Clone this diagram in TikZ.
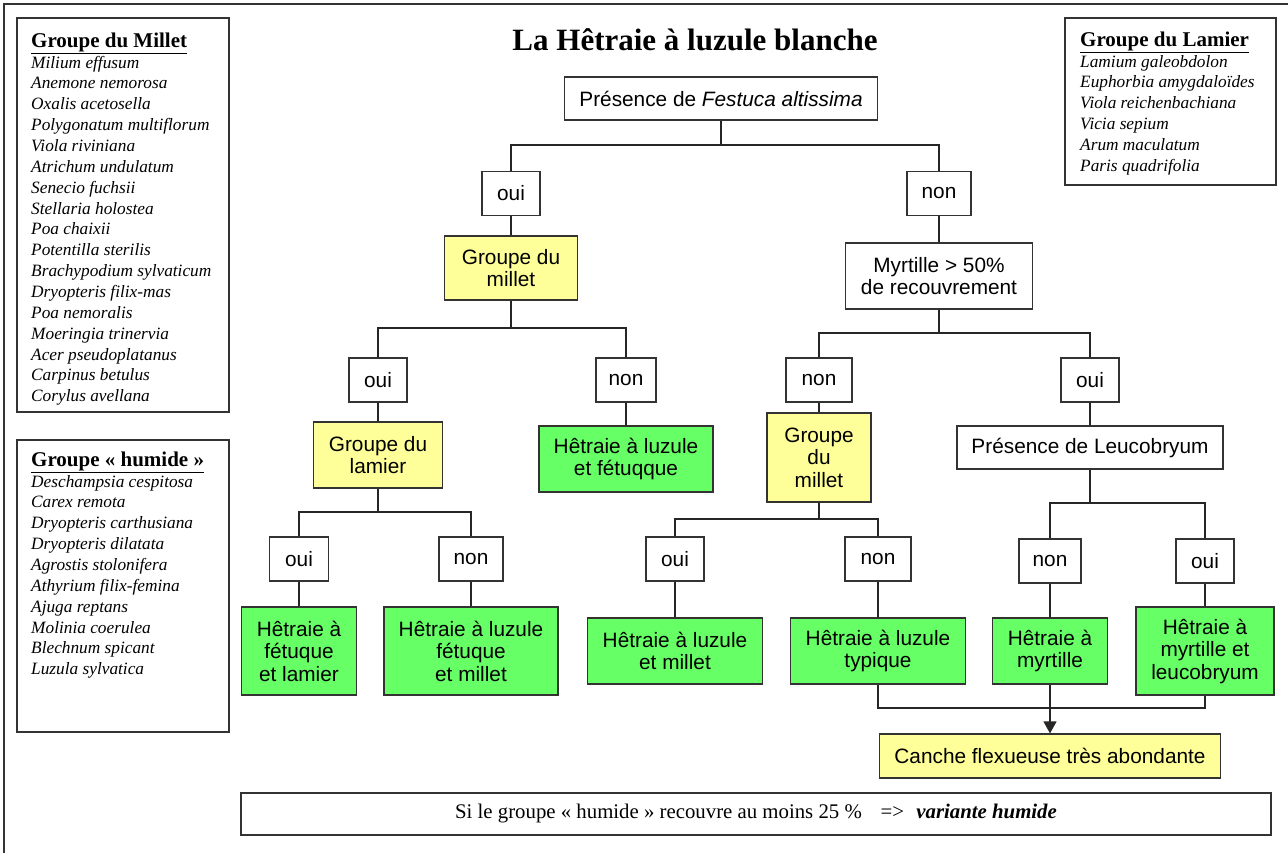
\documentclass[tikz,border=0pt]{standalone}
\usepackage{fontspec}
\setmainfont{Liberation Serif}
\newfontfamily\arialfont{Liberation Sans}
\usetikzlibrary{arrows.meta}

\definecolor{jaune}{HTML}{FFFF99}
\definecolor{vert}{HTML}{66FF66}

\newcommand{\grouphead}[1]{{\fontsize{21}{24}\selectfont\underline{\textbf{#1}}}}

\tikzset{
  box/.style={draw=black!80, line width=1.2pt, fill=white, align=center, inner sep=2pt,
    font=\arialfont\fontsize{20.8}{22.5}\selectfont},
  choice/.style={box, minimum height=44pt},
  yellowbox/.style={box, fill=jaune},
  greenbox/.style={box, fill=vert},
  link/.style={draw=black!85, line width=1.2pt},
  stem/.style={draw=black!85, line width=2pt},
  legend/.style={draw=black!80, line width=1.2pt},
  specs/.style={anchor=north west, inner sep=0pt, align=left, font=\fontsize{17.3}{20.85}\selectfont},
}

\begin{document}
\begin{tikzpicture}[x=1pt,y=1pt]
\useasboundingbox (0,-853) rectangle (1288,0);
\draw[black!80, line width=1.5pt] (4,-853) -- (4,-4) -- (1288,-4);

% species lists
\draw[legend] (17,-18) rectangle (229,-412);
\node[specs] (millet) at (31,-32.5) {\grouphead{Groupe du Millet}\\
  \textit{Milium effusum}\\ \textit{Anemone nemorosa}\\ \textit{Oxalis acetosella}\\
  \textit{Polygonatum multiflorum}\\ \textit{Viola riviniana}\\ \textit{Atrichum undulatum}\\
  \textit{Senecio fuchsii}\\ \textit{Stellaria holostea}\\ \textit{Poa chaixii}\\
  \textit{Potentilla sterilis}\\ \textit{Brachypodium sylvaticum}\\ \textit{Dryopteris filix-mas}\\
  \textit{Poa nemoralis}\\ \textit{Moeringia trinervia}\\ \textit{Acer pseudoplatanus}\\
  \textit{Carpinus betulus}\\ \textit{Corylus avellana}};
\draw[legend] (17,-440) rectangle (229,-732);
\node[specs] (humide) at (31,-451.5) {\grouphead{Groupe « humide »}\\
  \textit{Deschampsia cespitosa}\\ \textit{Carex remota}\\ \textit{Dryopteris carthusiana}\\
  \textit{Dryopteris dilatata}\\ \textit{Agrostis stolonifera}\\ \textit{Athyrium filix-femina}\\
  \textit{Ajuga reptans}\\ \textit{Molinia coerulea}\\ \textit{Blechnum spicant}\\
  \textit{Luzula sylvatica}};
\draw[legend] (1065,-18) rectangle (1276,-185);
\node[specs] (lamier) at (1080,-31.5) {\grouphead{Groupe du Lamier}\\
  \textit{Lamium galeobdolon}\\ \textit{Euphorbia amygdaloïdes}\\ \textit{Viola reichenbachiana}\\
  \textit{Vicia sepium}\\ \textit{Arum maculatum}\\ \textit{Paris quadrifolia}};

\node[font=\fontsize{31}{34}\selectfont\bfseries] (titre) at (695,-40) {La Hêtraie à luzule blanche};

% key
\node[box, minimum width=313, minimum height=43] (fest) at (721,-98.5) {Présence de \textit{Festuca altissima}};
\node[choice, minimum width=58] (oui1) at (511,-193.5) {oui};
\node[choice, minimum width=64] (non1) at (939,-193.5) {non};
\node[yellowbox, minimum width=133, minimum height=64] (mil1) at (511,-268) {Groupe du\\millet};
\node[box, minimum width=187, minimum height=66] (myr) at (939,-276) {Myrtille > 50\%\\de recouvrement};
\coordinate (j1) at (721,-145);
\draw[stem] (fest) -- (j1);
\draw[link] (oui1) |- (j1) -| (non1);
\draw[link] (oui1) -- (mil1);
\draw[link] (non1) -- (myr);

% branche gauche
\node[choice, minimum width=58] (oui2) at (378,-380) {oui};
\node[choice, minimum width=60] (non2) at (626,-380) {non};
\node[yellowbox, minimum width=129, minimum height=66] (lam) at (378,-455) {Groupe du\\lamier};
\node[greenbox, minimum width=174, minimum height=66] (fetuqque) at (626,-459) {Hêtraie à luzule\\et fétuqque};
\coordinate (j2) at (511,-328);
\draw[stem] (mil1) -- (j2);
\draw[link] (oui2) |- (j2) -| (non2);
\draw[link] (oui2) -- (lam);
\draw[link] (non2) -- (fetuqque);

\node[choice, minimum width=59] (oui3) at (299,-559) {oui};
\node[choice, minimum width=64] (non3) at (471,-559) {non};
\node[greenbox, minimum width=115, minimum height=88] (fetlam) at (299,-651) {Hêtraie à\\fétuque\\et lamier};
\node[greenbox, minimum width=174, minimum height=88] (lfm) at (471,-651) {Hêtraie à luzule\\fétuque\\et millet};
\coordinate (j3) at (378,-512);
\draw[stem] (lam) -- (j3);
\draw[link] (oui3) |- (j3) -| (non3);
\draw[link] (oui3) -- (fetlam);
\draw[link] (non3) -- (lfm);

% branche droite
\node[choice, minimum width=66] (non4) at (819,-380) {non};
\node[choice, minimum width=58] (oui4) at (1090,-380) {oui};
\node[yellowbox, minimum width=104, minimum height=89] (mil2) at (819,-457.5) {Groupe\\du\\millet};
\node[box, minimum width=266, minimum height=43] (leuco) at (1090,-447.5) {Présence de Leucobryum};
\coordinate (j4) at (939,-333);
\draw[stem] (myr) -- (j4);
\draw[link] (non4) |- (j4) -| (oui4);
\draw[link] (non4) -- (mil2);
\draw[link] (oui4) -- (leuco);

\node[choice, minimum width=58] (oui5) at (675,-559) {oui};
\node[choice, minimum width=66] (non5) at (878,-559) {non};
\node[greenbox, minimum width=175, minimum height=66] (lmil) at (675,-651) {Hêtraie à luzule\\et millet};
\node[greenbox, minimum width=175, minimum height=66] (typ) at (878,-651) {Hêtraie à luzule\\typique};
\coordinate (j5) at (819,-519);
\draw[stem] (mil2) -- (j5);
\draw[link] (oui5) |- (j5) -| (non5);
\draw[link] (oui5) -- (lmil);
\draw[link] (non5) -- (typ);

\node[choice, minimum width=62] (non6) at (1050,-561) {non};
\node[choice, minimum width=58] (oui6) at (1205,-561) {oui};
\node[greenbox, minimum width=115, minimum height=66] (myrt) at (1050,-651) {Hêtraie à\\myrtille};
\node[greenbox, minimum width=138, minimum height=88] (myrleu) at (1205,-651) {Hêtraie à\\myrtille et\\leucobryum};
\coordinate (j6) at (1090,-503);
\draw[stem] (leuco) -- (j6);
\draw[link] (non6) |- (j6) -| (oui6);
\draw[link] (non6) -- (myrt);
\draw[link] (oui6) -- (myrleu);

% canche
\node[yellowbox, minimum width=341, minimum height=44] (canche) at (1050,-756) {Canche flexueuse très abondante};
\coordinate (j7) at (1050,-708);
\draw[link] (typ) |- (j7) -| (myrleu);
\draw[link, -{Triangle[length=12pt,width=13pt]}] (myrt) -- (canche);

\node[box, font=\fontsize{20.8}{23}\selectfont, minimum width=1030, minimum height=42] (note) at (756,-814)
  {Si le groupe « humide » recouvre au moins 25~\%\hspace{0.9em}=>\hspace{0.6em}\textbf{\textit{variante humide}}};
\end{tikzpicture}
\end{document}
